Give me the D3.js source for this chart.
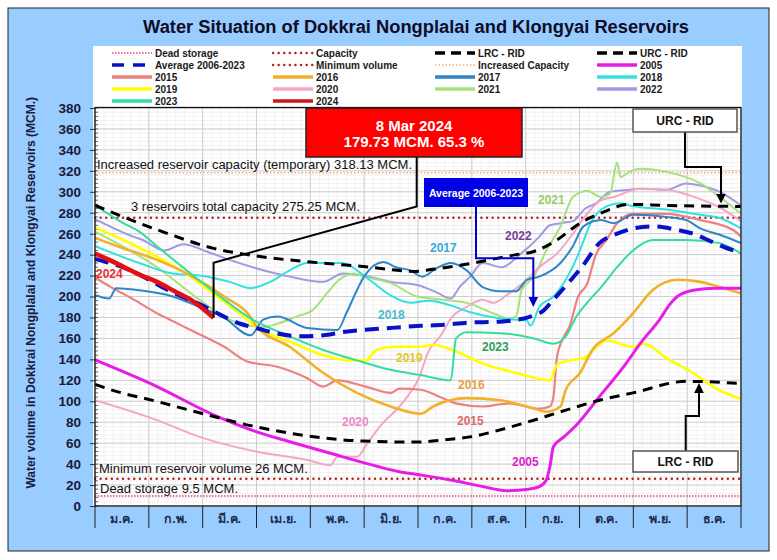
<!DOCTYPE html>
<html><head><meta charset="utf-8">
<script src="https://cdn.jsdelivr.net/npm/d3@7"></script>
<style>
body{margin:0;background:#fff;}
text{font-family:'Liberation Sans',Arial,sans-serif;}
</style>
</head><body>
<svg id="c" width="777" height="560"></svg>
<script>
// ---------------- DATA ----------------
const months = ['ม.ค.','ก.พ.','มี.ค.','เม.ย.','พ.ค.','มิ.ย.','ก.ค.','ส.ค.','ก.ย.','ต.ค.','พ.ย.','ธ.ค.'];
const yTicks = [0,20,40,60,80,100,120,140,160,180,200,220,240,260,280,300,320,340,360,380];
const deadStorage = 9.5, capacity = 275.25, minVolume = 26, increasedCapacity = 318.13;
// [day of year, volume MCM]
const lrc = [[0,116],[15,108],[30,102],[59,89],[90,76],[120,67],[151,62],[181,61],[197,63],[212,66],[236,76],[267,92],[285,101],[304,108],[334,119],[365,117]];
const urc = [[0,287],[16,276],[38,262],[67,246],[86,240],[128,232],[153,228.5],[181,224],[191,226],[207,230],[238,240],[248,243],[261,254],[274,270],[285,279],[302,288],[323,287],[365,286]];
const avg = [[0,236],[20,225],[38,209],[45,203],[60,192],[68,185],[82,174],[91,170],[102,165],[116,162],[129,163],[140,166],[167,170],[184,172],[197,173],[210,175],[229,176],[248,182],[253,186],[259,197],[269,216],[275,228],[285,251],[295,260],[304,265],[315,267],[328,264],[338,260],[349,252],[361,244],[365,243]];
const y2005 = [[0,139.4],[35,114],[67,87],[91,71],[110,61.4],[133,50.3],[157,39],[172,32.7],[184,29.6],[201,24.8],[218,19],[233,14.6],[245,16],[251,18.4],[255,24.8],[257,37.5],[259,56.6],[265,66],[272,77.3],[285,104.4],[300,136],[308,155],[319,178],[325,193],[329,200],[338,206],[351,208],[365,208]];
const y2015 = [[0,218],[9,209],[22,197],[35,184],[41,179],[54,168],[73,152],[86,138],[103,133],[120,122],[129,114],[137,120],[153,114],[167,108],[172,112],[184,111],[195,104],[204,98],[219,95],[234,98],[251,93],[257,95],[259,104],[261,142],[265,162],[268,171],[273,200],[278,212],[283,240],[289,254],[295,270],[304,279],[323,279],[342,273],[361,263],[365,257]];
const y2016 = [[0,256],[16,246],[35,235],[54,220],[73,200],[88,180],[91,172],[110,152],[129,127],[148,108],[167,95],[184,88],[191,95],[210,103],[229,101],[248,93],[255,90],[263,95],[266,111],[274,127],[281,149],[293,165],[304,184],[315,206],[329,216],[342,214],[353,209],[365,203]];
const y2017 = [[0,201.5],[8,198],[12,208],[25,206],[44,200],[59,190],[72,181],[88,163],[95,178],[103,181],[120,170],[137,168],[142,184],[148,206],[152,219],[163,233],[170,228],[178,225],[185,219],[193,227],[201,232],[210,225],[219,209],[229,205],[238,205],[244,216],[251,219],[263,232],[270,248],[276,267],[286,273],[293,270],[304,278],[323,276],[334,273],[342,265],[353,259],[365,251]];
const y2018 = [[0,248],[25,232],[44,222],[59,220],[76,214],[88,208],[99,214],[110,225],[120,232],[139,232],[155,216],[167,201],[178,194],[189,196],[200,192],[212,185],[229,179],[244,177],[246,172],[251,190],[259,200],[267,219],[274,244],[280,270],[289,286],[297,289],[302,287],[323,283],[342,278],[353,275],[365,265]];
const y2019 = [[0,266],[16,254],[35,238],[54,219],[65,205],[84,181],[91,171],[110,157],[129,144],[144,139],[153,139],[159,149],[170,152],[184,152],[191,154],[202,149],[219,136],[238,127],[257,120],[261,135],[268,139],[276,141],[289,158],[304,152],[310,155],[323,141],[338,127],[349,114],[365,102]];
const y2020 = [[0,101],[35,82],[59,66],[91,52],[120,44],[133,39],[137,47],[148,47],[154,60],[161,76],[172,95],[178,108],[183,122],[188,146],[195,162],[202,181],[210,190],[219,197],[225,194],[234,203],[244,216],[251,228],[261,241],[270,260],[278,279],[286,292],[293,295],[308,303],[323,302],[342,293],[353,285],[365,272]];
const y2021 = [[0,262],[35,228],[59,197],[76,178],[95,171],[103,174],[114,181],[123,187],[131,203],[138,216],[146,222],[152,219],[167,213],[182,200],[197,197],[212,193],[225,184],[234,179],[238,181],[241,206],[248,219],[255,244],[263,267],[270,295],[278,301],[286,295],[291,298],[295,328],[297,314],[302,319],[308,322],[323,319],[342,308],[353,295],[365,279]];
const y2022 = [[0,274],[22,257],[27,254],[39,244],[50,250],[63,243],[76,235],[91,227],[110,219],[129,214],[140,222],[155,219],[167,214],[182,211],[193,204],[201,198],[206,209],[212,219],[219,232],[230,228],[240,240],[251,257],[257,268],[263,270],[270,272],[277,284],[283,289],[291,300],[302,302],[308,303],[323,302],[334,308],[342,306],[353,300],[365,287]];
const y2023 = [[0,287],[16,270],[25,262],[35,248],[54,222],[73,197],[88,179],[110,162],[129,149],[148,139],[167,130],[184,125],[201,120],[204,160],[210,166],[229,165],[248,160],[259,155],[266,162],[272,181],[278,194],[286,209],[295,228],[304,244],[315,254],[334,254],[353,251],[365,241]];
const y2024 = [[0,241],[8,235],[16,228.5],[25,221],[35,214],[45,205],[54,197],[62,187],[67,179.73]];
const lastDay = 67, lastValue = 179.73, lastPct = 65.3;

// ---------------- CHART ----------------
const svg = d3.select('#c');
const x = d3.scaleLinear().domain([0,365]).range([95,741]);
const y = d3.scaleLinear().domain([0,380]).range([506,108]);
const L = x.range()[0], R = x.range()[1], B = y.range()[0], T = 107.5;

svg.append('rect').attr('x',8).attr('y',8).attr('width',761).attr('height',543).attr('fill','#99CCFF').attr('stroke','#222').attr('stroke-width',1);
svg.append('rect').attr('x',93).attr('y',46).attr('width',649).attr('height',461).attr('fill','#fff');

// title
svg.append('text').attr('x',416).attr('y',33).attr('text-anchor','middle')
  .attr('font-size',18.3).attr('font-weight','bold').attr('fill','#0d0d26')
  .text('Water Situation of Dokkrai Nongplalai and Klongyai Reservoirs');

// grid
const g = svg.append('g');
const monthDays = d3.range(13).map(i => i*365/12);
d3.range(0,73).forEach(i => { const d=i*365/72; g.append('line').attr('x1',x(d)).attr('x2',x(d)).attr('y1',T).attr('y2',B).attr('stroke','#f1f1f1'); });
d3.range(0,381,4).forEach(v => g.append('line').attr('x1',L).attr('x2',R).attr('y1',y(v)).attr('y2',y(v)).attr('stroke','#f1f1f1'));
monthDays.forEach(d => g.append('line').attr('x1',x(d)).attr('x2',x(d)).attr('y1',T).attr('y2',B).attr('stroke','#cfcfcf'));
yTicks.forEach(v => g.append('line').attr('x1',L).attr('x2',R).attr('y1',y(v)).attr('y2',y(v)).attr('stroke','#cfcfcf'));

// y axis
const yAxis = svg.append('g').attr('transform',`translate(${L},0)`)
  .call(d3.axisLeft(y).tickValues(yTicks).tickSize(5).tickPadding(9));
yAxis.select('.domain').remove();
yAxis.selectAll('line').attr('stroke','#333');
yAxis.selectAll('text').attr('font-size',13.5).attr('font-weight','bold').attr('fill','#1a1a3a')
  .attr('font-family',"'Liberation Sans',Arial,sans-serif");
d3.range(0,381,4).forEach(v => svg.append('line').attr('x1',L).attr('x2',L+3).attr('y1',y(v)).attr('y2',y(v)).attr('stroke','#444').attr('stroke-width',0.8));

svg.append('text').attr('transform',`translate(35,${(T+B)/2-14}) rotate(-90)`).attr('text-anchor','middle')
  .attr('font-size',12).attr('font-weight','bold').attr('fill','#1a1a3a')
  .text('Water volume in Dokkrai Nongplalai and Klongyai Reservoirs (MCM.)');

// x axis band
monthDays.forEach(d => svg.append('line').attr('x1',x(d)).attr('x2',x(d)).attr('y1',B).attr('y2',B+22).attr('stroke','#222').attr('stroke-width',1));
months.forEach((m,i) => svg.append('text').attr('x',x((i+0.5)*365/12)).attr('y',B+17).attr('text-anchor','middle')
  .attr('font-size',12.5).attr('font-weight','bold').attr('fill','#1f2d4f')
  .attr('font-family',"Tahoma,'Noto Sans Thai','Noto Sans','DejaVu Sans',sans-serif").text(m));

// reference horizontal lines
const refs = [
  {v: increasedCapacity, stroke:'#F4B183', w:1.5, dash:'1.5,2', cap:'butt'},
  {v: capacity, stroke:'#B22222', w:2.4, dash:'0.1,5.5', cap:'round'},
  {v: minVolume, stroke:'#B22222', w:2.4, dash:'0.1,5.5', cap:'round'},
  {v: deadStorage, stroke:'#E8407A', w:1.5, dash:'1.5,1.5', cap:'butt'}
];
refs.forEach(r => svg.append('line').attr('x1',L).attr('x2',R).attr('y1',y(r.v)).attr('y2',y(r.v))
  .attr('stroke',r.stroke).attr('stroke-width',r.w).attr('stroke-dasharray',r.dash).attr('stroke-linecap',r.cap));

// series
const line = d3.line().x(d=>x(d[0])).y(d=>y(d[1])).curve(d3.curveMonotoneX);
const series = [
  {data:y2022, c:'#9E9BE0', w:2},
  {data:y2021, c:'#A6E27A', w:2},
  {data:y2020, c:'#F4A6C6', w:2},
  {data:y2015, c:'#EE8080', w:2.2},
  {data:y2018, c:'#33E0E0', w:2},
  {data:y2017, c:'#2E86C8', w:2},
  {data:y2019, c:'#FFFF00', w:2.6},
  {data:y2016, c:'#F2B12A', w:2.6},
  {data:y2023, c:'#33DDA0', w:2},
  {data:y2005, c:'#E81CE8', w:3},
  {data:urc, c:'#000', w:3, dash:'10,7'},
  {data:lrc, c:'#000', w:3, dash:'10,7'},
  {data:avg, c:'#0A10C8', w:4, dash:'14,8'},
  {data:y2024, c:'#E21010', w:4.5}
];
svg.append('clipPath').attr('id','pc').append('rect').attr('x',L).attr('y',T).attr('width',R-L).attr('height',B-T);
const sg = svg.append('g').attr('clip-path','url(#pc)');
series.forEach(s => sg.append('path').attr('d',line(s.data)).attr('fill','none').attr('stroke',s.c)
  .attr('stroke-width',s.w).attr('stroke-dasharray',s.dash||null).attr('stroke-linejoin','round'));

// plot frame
svg.append('rect').attr('x',L).attr('y',T).attr('width',R-L).attr('height',B-T).attr('fill','none').attr('stroke','#111').attr('stroke-width',1.3);

// annotation texts
const ann = svg.append('g').attr('font-size',13).attr('fill','#111').style('white-space','pre');
ann.append('text').attr('x',97).attr('y',y(increasedCapacity)-4).text('Increased reservoir capacity (temporary)  318.13 MCM.');
ann.append('text').attr('x',131).attr('y',y(capacity)-7).text('3 reservoirs total capacity 275.25 MCM.');
ann.append('text').attr('x',99).attr('y',y(minVolume)-6).text('Minimum reservoir volume 26 MCM.');
ann.append('text').attr('x',100).attr('y',y(deadStorage)-3).text('Dead storage 9.5 MCM.');

// year labels
const yl = [
  ['2024','#E83030',96,278],['2017','#3AA8DC',430,252],['2018','#4ABCC8',378,319],['2021','#99CC66',538,204],
  ['2022','#7B3F9E',505,240],['2019','#E0C828',396,362],['2023','#2E9E5E',482,351],['2016','#E8A040',458,389],
  ['2015','#E06868',457,425],['2020','#EE88CC',342,426],['2005','#DD22CC',512,466]
];
yl.forEach(t => svg.append('text').attr('x',t[2]).attr('y',t[3]).attr('font-size',12).attr('font-weight','bold').attr('fill',t[1]).text(t[0]));

// red callout
const px = x(lastDay), py = y(lastValue);
svg.append('path').attr('d',`M416.7,157 V206.5 L${px},262.7 V${py}`).attr('fill','none').attr('stroke','#000').attr('stroke-width',2);
svg.append('rect').attr('x',306).attr('y',108).attr('width',216).attr('height',49).attr('fill','#FF0000').attr('stroke','#222').attr('stroke-width',1.5);
svg.append('text').attr('x',414).attr('y',131).attr('text-anchor','middle').attr('font-size',15).attr('font-weight','bold').attr('fill','#fff').text('8 Mar 2024');
svg.append('text').attr('x',414).attr('y',147).attr('text-anchor','middle').attr('font-size',15).attr('font-weight','bold').attr('fill','#fff').text(`${lastValue} MCM. ${lastPct} %`);

// blue callout
svg.append('path').attr('d','M476,207 V258.3 H533.3 V299').attr('fill','none').attr('stroke','#0000CC').attr('stroke-width',2);
svg.append('path').attr('d','M528.5,297 L538.1,297 L533.3,307 Z').attr('fill','#0000CC');
svg.append('rect').attr('x',424).attr('y',178).attr('width',104).attr('height',29).attr('fill','#0000E6');
svg.append('text').attr('x',476).attr('y',196.5).attr('text-anchor','middle').attr('font-size',10.5).attr('font-weight','bold').attr('fill','#fff').text('Average 2006-2023');

// URC callout
svg.append('path').attr('d','M685,132 V167 H721 V196').attr('fill','none').attr('stroke','#000').attr('stroke-width',2);
svg.append('path').attr('d','M716.2,194 L725.8,194 L721,203.5 Z').attr('fill','#000');
svg.append('rect').attr('x',633).attr('y',109).attr('width',104).attr('height',23).attr('fill','#fff').attr('stroke','#555').attr('stroke-width',1.5);
svg.append('text').attr('x',685).attr('y',125).attr('text-anchor','middle').attr('font-size',12).attr('font-weight','bold').attr('fill','#111').text('URC - RID');

// LRC callout
svg.append('path').attr('d','M685.7,451 V416 H699 V391').attr('fill','none').attr('stroke','#000').attr('stroke-width',2);
svg.append('path').attr('d','M694.2,393 L703.8,393 L699,383 Z').attr('fill','#000');
svg.append('rect').attr('x',633).attr('y',451).attr('width',105).attr('height',21).attr('fill','#fff').attr('stroke','#555').attr('stroke-width',1.5);
svg.append('text').attr('x',685.5).attr('y',466).attr('text-anchor','middle').attr('font-size',12).attr('font-weight','bold').attr('fill','#111').text('LRC - RID');

// legend
const legend = [
  ['Dead storage','#E8407A',1.5,'1.5,1.5','butt'],['Capacity','#B22222',2.4,'0.1,5.5','round'],['LRC - RID','#000',3.5,'10,6','butt'],['URC - RID','#000',3.5,'10,6','butt'],
  ['Average 2006-2023','#0A10C0',3.5,'12,9','butt'],['Minimum volume','#B22222',2.4,'0.1,5.5','round'],['Increased Capacity','#F4B183',1.5,'1.5,2','butt'],['2005','#E81CE8',3.5,null,'butt'],
  ['2015','#EE8080',3.5,null,'butt'],['2016','#F2B12A',3.5,null,'butt'],['2017','#2E86C8',3.5,null,'butt'],['2018','#33E0E0',3.5,null,'butt'],
  ['2019','#FFFF00',3.5,null,'butt'],['2020','#F4A6C6',3.5,null,'butt'],['2021','#A6E27A',3.5,null,'butt'],['2022','#9E9BE0',3.5,null,'butt'],
  ['2023','#33DDA0',3.5,null,'butt'],['2024','#C81818',3.5,null,'butt']
];
const colX = [112,273,435,597], rowY = [53,65,77,89,101];
legend.forEach((e,i) => {
  const cx = colX[i%4], cy = rowY[Math.floor(i/4)];
  svg.append('line').attr('x1',cx).attr('x2',cx+40).attr('y1',cy).attr('y2',cy).attr('stroke',e[1]).attr('stroke-width',e[2])
    .attr('stroke-dasharray',e[3]).attr('stroke-linecap',e[4]);
  svg.append('text').attr('x',cx+43).attr('y',cy+3.5).attr('font-size',10).attr('font-weight','bold').attr('fill','#1a1a1a').text(e[0]);
});
</script>
</body></html>
